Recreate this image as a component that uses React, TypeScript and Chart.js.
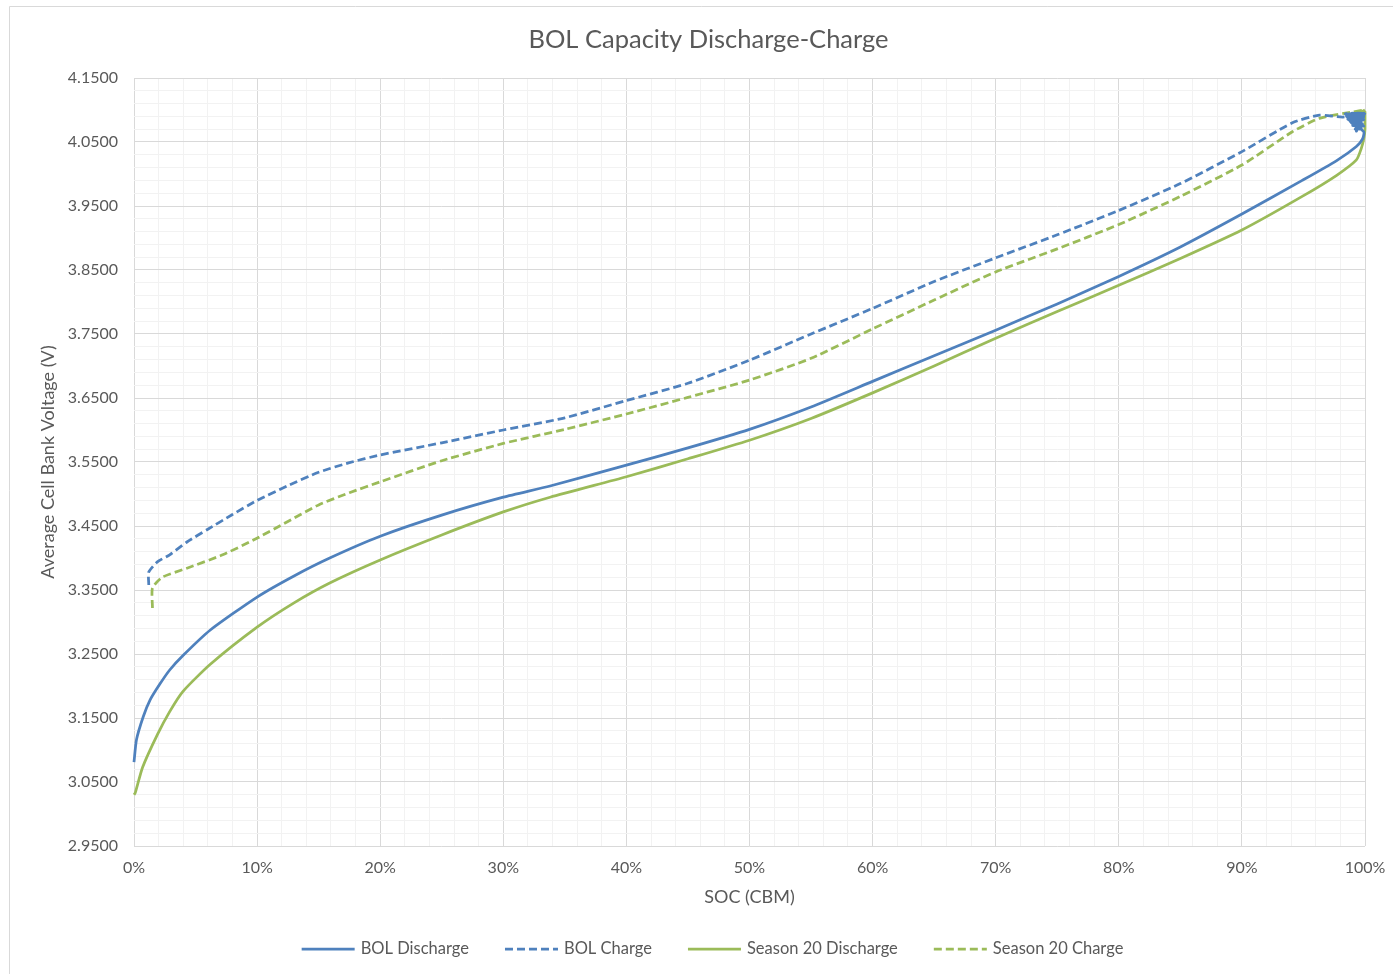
import React, { useEffect, useRef } from "react";
import { Chart, registerables } from "chart.js";

Chart.register(...registerables);

const FONT = "Lato, 'Open Sans', sans-serif";
const TEXT = "#595959";
const MAJOR = "#d9d9d9";
const MINOR = "#f2f2f2";
const BLUE = "#4f81bd";
const GREEN = "#9bbb59";

const chartTitle = "BOL Capacity Discharge-Charge";
const xTitle = "SOC (CBM)";
const yTitle = "Average Cell Bank Voltage (V)";
const seriesNames = ["BOL Discharge", "BOL Charge", "Season 20 Discharge", "Season 20 Charge"];

const xTickLabels = ["0%", "10%", "20%", "30%", "40%", "50%", "60%", "70%", "80%", "90%", "100%"];
const yTickLabels = ["2.9500", "3.0500", "3.1500", "3.2500", "3.3500", "3.4500", "3.5500", "3.6500", "3.7500", "3.8500", "3.9500", "4.0500", "4.1500"];

// SOC (fraction) and voltage for each series
const bolDischargeX = [0, 0.002, 0.0075, 0.013, 0.021, 0.029, 0.04, 0.062, 0.1, 0.13, 0.159, 0.2, 0.25, 0.3, 0.338, 0.4, 0.45, 0.5, 0.55, 0.6, 0.65, 0.7, 0.75, 0.8, 0.85, 0.9, 0.949, 0.977, 0.993, 0.998,
  0.999, 0.985, 0.998, 0.984, 0.997, 0.986, 0.999, 0.985, 0.996, 0.988, 0.999, 0.987, 0.998, 0.99, 0.999, 0.986, 0.997, 0.992, 0.999, 0.989, 0.996, 0.993, 1.0];
const bolDischargeY = [3.081, 3.116, 3.152, 3.178, 3.203, 3.225, 3.248, 3.2875, 3.339, 3.372, 3.4, 3.434, 3.467, 3.495, 3.5125, 3.545, 3.572, 3.601, 3.636, 3.676, 3.716, 3.756, 3.797, 3.84, 3.886, 3.9375, 3.99, 4.021, 4.043, 4.055,
  4.066, 4.09, 4.068, 4.094, 4.072, 4.086, 4.075, 4.095, 4.07, 4.082, 4.085, 4.092, 4.078, 4.076, 4.094, 4.094, 4.088, 4.07, 4.09, 4.095, 4.08, 4.067, 4.096];

const bolChargeX = [0.012, 0.012, 0.019, 0.029, 0.043, 0.06, 0.08, 0.1, 0.125, 0.15, 0.175, 0.2, 0.25, 0.3, 0.35, 0.4, 0.45, 0.5, 0.55, 0.6, 0.65, 0.7, 0.75, 0.8, 0.85, 0.9, 0.941, 0.963, 0.982, 1.0];
const bolChargeY = [3.358, 3.378, 3.394, 3.405, 3.425, 3.445, 3.468, 3.49, 3.513, 3.534, 3.549, 3.561, 3.58, 3.6, 3.619, 3.646, 3.673, 3.709, 3.75, 3.79, 3.832, 3.869, 3.905, 3.943, 3.985, 4.035, 4.08, 4.092, 4.089, 4.095];

const s20DischargeX = [0, 0.001, 0.007, 0.019, 0.029, 0.04, 0.062, 0.1, 0.13, 0.159, 0.2, 0.25, 0.3, 0.338, 0.4, 0.45, 0.5, 0.55, 0.6, 0.65, 0.7, 0.75, 0.8, 0.85, 0.9, 0.949, 0.977, 0.993, 0.997, 0.999, 1.0, 1.0, 0.997, 1.0, 0.996, 1.0];
const s20DischargeY = [3.03, 3.033, 3.073, 3.124, 3.16, 3.192, 3.234, 3.292, 3.33, 3.361, 3.397, 3.436, 3.472, 3.495, 3.527, 3.555, 3.584, 3.618, 3.658, 3.7, 3.7435, 3.785, 3.826, 3.868, 3.9125, 3.965, 3.998, 4.022, 4.04, 4.055, 4.07, 4.097, 4.09, 4.085, 4.095, 4.1];

const s20ChargeX = [0.015, 0.015, 0.023, 0.043, 0.072, 0.097, 0.125, 0.15, 0.175, 0.2, 0.25, 0.3, 0.35, 0.4, 0.45, 0.5, 0.55, 0.6, 0.65, 0.7, 0.75, 0.8, 0.85, 0.9, 0.941, 0.963, 0.99, 1.0];
const s20ChargeY = [3.322, 3.353, 3.37, 3.384, 3.405, 3.428, 3.457, 3.483, 3.502, 3.519, 3.552, 3.579, 3.601, 3.625, 3.651, 3.678, 3.712, 3.758, 3.803, 3.847, 3.883, 3.921, 3.965, 4.014, 4.066, 4.087, 4.097, 4.1];

const zip = (xs: number[], ys: number[]) => xs.map((x, i) => ({ x, y: ys[i] }));

const frameAndTitlePlugin = {
  id: "frameAndTitle",
  beforeDraw(chart: any) {
    const ctx = chart.ctx;
    ctx.save();
    ctx.fillStyle = "#ffffff";
    ctx.fillRect(0, 0, chart.width, chart.height);
    ctx.strokeStyle = MAJOR;
    ctx.lineWidth = 1;
    ctx.beginPath();
    ctx.moveTo(9.5, chart.height);
    ctx.lineTo(9.5, 6.5);
    ctx.lineTo(chart.width, 6.5);
    ctx.stroke();
    ctx.fillStyle = TEXT;
    ctx.font = `25.5px ${FONT}`;
    ctx.textAlign = "center";
    ctx.textBaseline = "middle";
    ctx.fillText(chartTitle, 708.5, 40);
    ctx.restore();
  },
};

const legendPlugin = {
  id: "excelLegend",
  afterDraw(chart: any) {
    const ctx = chart.ctx;
    ctx.save();
    ctx.font = `16.5px ${FONT}`;
    const sample = 53;
    const gap = 6;
    const spacing = 36;
    const items = chart.data.datasets.map((ds: any) => ({ ds, w: ctx.measureText(ds.label).width }));
    const total = items.reduce((s: number, it: any) => s + sample + gap + it.w, 0) + spacing * (items.length - 1);
    let x = 712.5 - total / 2;
    const y = 949;
    for (const it of items) {
      ctx.strokeStyle = it.ds.borderColor;
      ctx.lineWidth = 2.75;
      ctx.setLineDash(it.ds.borderDash || []);
      ctx.beginPath();
      ctx.moveTo(x, y);
      ctx.lineTo(x + sample, y);
      ctx.stroke();
      ctx.setLineDash([]);
      ctx.fillStyle = TEXT;
      ctx.textBaseline = "middle";
      ctx.textAlign = "left";
      ctx.fillText(it.ds.label, x + sample + gap, y);
      x += sample + gap + it.w + spacing;
    }
    ctx.restore();
  },
};

export default function App() {
  const ref = useRef<HTMLCanvasElement>(null);

  useEffect(() => {
    const lineStyle = { pointRadius: 0, borderWidth: 2.75, tension: 0.2, clip: 6, fill: false };
    const chart = new Chart(ref.current as HTMLCanvasElement, {
      type: "line",
      data: {
        datasets: [
          { label: seriesNames[0], data: zip(bolDischargeX, bolDischargeY), borderColor: BLUE, backgroundColor: BLUE, ...lineStyle },
          { label: seriesNames[1], data: zip(bolChargeX, bolChargeY), borderColor: BLUE, backgroundColor: BLUE, borderDash: [8, 4], ...lineStyle },
          { label: seriesNames[2], data: zip(s20DischargeX, s20DischargeY), borderColor: GREEN, backgroundColor: GREEN, ...lineStyle },
          { label: seriesNames[3], data: zip(s20ChargeX, s20ChargeY), borderColor: GREEN, backgroundColor: GREEN, borderDash: [8, 4], ...lineStyle },
        ] as any,
      },
      options: {
        animation: false,
        responsive: false,
        devicePixelRatio: 1,
        events: [],
        layout: { padding: { left: 0, right: 28, top: 78, bottom: 58 } },
        plugins: {
          legend: { display: false },
          tooltip: { enabled: false },
          title: { display: false },
        },
        scales: {
          x: {
            type: "linear",
            min: 0,
            max: 1,
            afterFit: (s: any) => { s.height = 70; s.paddingLeft = 0; s.paddingRight = 0; },
            border: { display: false },
            grid: {
              drawTicks: false,
              lineWidth: 1,
              color: (c: any) => (c.index % 5 === 0 ? MAJOR : MINOR),
            },
            ticks: {
              stepSize: 0.02,
              autoSkip: false,
              maxRotation: 0,
              padding: 12,
              color: TEXT,
              font: { family: FONT, size: 16 },
              callback: (_v: any, i: number) => (i % 5 === 0 ? xTickLabels[i / 5] : ""),
            },
            title: {
              display: true,
              text: xTitle,
              color: TEXT,
              font: { family: FONT, size: 18 },
              padding: { top: 0, bottom: 8 },
            },
          },
          y: {
            type: "linear",
            min: 2.95,
            max: 4.15,
            afterFit: (s: any) => { s.width = 134; s.paddingTop = 0; s.paddingBottom = 0; },
            border: { display: false },
            grid: {
              drawTicks: false,
              lineWidth: 1,
              color: (c: any) => (c.index % 5 === 0 ? MAJOR : MINOR),
            },
            ticks: {
              stepSize: 0.02,
              autoSkip: false,
              padding: 16,
              color: TEXT,
              font: { family: FONT, size: 16 },
              callback: (_v: any, i: number) => (i % 5 === 0 ? yTickLabels[i / 5] : ""),
            },
            title: {
              display: true,
              text: yTitle,
              color: TEXT,
              font: { family: FONT, size: 18 },
              padding: { top: 37, bottom: 0 },
            },
          },
        },
      } as any,
      plugins: [frameAndTitlePlugin, legendPlugin],
    });
    return () => chart.destroy();
  }, []);

  return (
    <div style={{ position: "fixed", left: 0, top: 0, width: 1393, height: 974, background: "#fff" }}>
      <canvas ref={ref} width={1393} height={974} style={{ display: "block", width: 1393, height: 974 }} />
    </div>
  );
}
